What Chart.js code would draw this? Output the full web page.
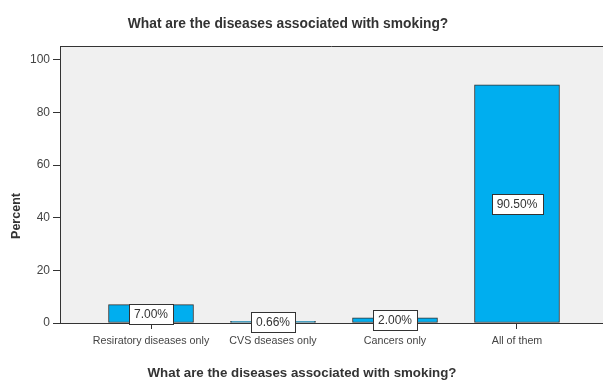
<!DOCTYPE html>
<html>
<head>
<meta charset="utf-8">
<script src="https://cdn.jsdelivr.net/npm/chart.js@4/dist/chart.umd.min.js"></script>
<style>
  html, body { margin: 0; padding: 0; background: #ffffff; }
  #wrap { width: 603px; height: 382px; }
</style>
</head>
<body>
<div id="wrap"><canvas id="c" width="603" height="382"></canvas></div>
<script>
// Survey answers: share of respondents per answer
const categories = ['Resiratory diseases only', 'CVS dseases only', 'Cancers only', 'All of them'];
const percentValues = [7.00, 0.66, 2.00, 90.50];
const yTicks = [0, 20, 40, 60, 80, 100];

const chartTitle = 'What are the diseases associated with smoking?';
const xAxisTitle = 'What are the diseases associated with smoking?';
const yAxisTitle = 'Percent';

const FONT = '"Liberation Sans", Arial, Helvetica, sans-serif';
const INK = '#333333';

// grey plot background plus the top frame line
const plotFrame = {
  id: 'plotFrame',
  beforeDraw(chart) {
    const { ctx, chartArea: a } = chart;
    ctx.save();
    ctx.fillStyle = '#f0f0f0';
    ctx.fillRect(a.left, a.top, a.right - a.left, a.bottom - a.top);
    ctx.strokeStyle = INK;
    ctx.lineWidth = 1;
    ctx.beginPath();
    ctx.moveTo(a.left, a.top + 0.5);
    ctx.lineTo(a.right, a.top + 0.5);
    ctx.stroke();
    ctx.restore();
  }
};

// boxed percentage labels in the middle of each bar
const boxedLabels = {
  id: 'boxedLabels',
  afterDatasetsDraw(chart) {
    const { ctx } = chart;
    const meta = chart.getDatasetMeta(0);
    ctx.save();
    ctx.font = '12px ' + FONT;
    ctx.textAlign = 'center';
    ctx.textBaseline = 'middle';
    meta.data.forEach((bar, i) => {
      const text = percentValues[i].toFixed(2) + '%';
      const w = Math.round(ctx.measureText(text).width) + 10;
      const h = 20;
      const cx = Math.round(bar.x);
      const cy = Math.round((bar.y + bar.base) / 2);
      const x0 = Math.round(cx - w / 2) + 0.5;
      const y0 = Math.round(cy - h / 2) + 0.5;
      ctx.fillStyle = '#ffffff';
      ctx.fillRect(x0, y0, w, h);
      ctx.strokeStyle = INK;
      ctx.lineWidth = 1;
      ctx.strokeRect(x0, y0, w, h);
      ctx.fillStyle = INK;
      ctx.fillText(text, cx, cy + 1);
    });
    ctx.restore();
  }
};

// chart title, x-axis title and rotated y-axis title
const titles = {
  id: 'titles',
  afterDraw(chart) {
    const { ctx } = chart;
    ctx.save();
    ctx.fillStyle = INK;
    ctx.textAlign = 'center';
    ctx.textBaseline = 'middle';
    ctx.font = 'bold 13.8px ' + FONT;
    ctx.fillText(chartTitle, 288, 24);
    ctx.font = 'bold 13.3px ' + FONT;
    ctx.fillText(xAxisTitle, 302, 373);
    ctx.translate(17, 216);
    ctx.rotate(-Math.PI / 2);
    ctx.font = 'bold 12.5px ' + FONT;
    ctx.fillText(yAxisTitle, 0, 0);
    ctx.restore();
  }
};

new Chart(document.getElementById('c'), {
  type: 'bar',
  data: {
    datasets: [{
      data: categories.map((c, i) => ({ x: i, y: percentValues[i] })),
      backgroundColor: '#00aeef',
      borderColor: INK,
      borderWidth: 1,
      borderSkipped: false,
      barThickness: 85
    }]
  },
  options: {
    responsive: false,
    animation: false,
    layout: { padding: { top: 46, left: 0, right: 0, bottom: 0 } },
    plugins: {
      legend: { display: false },
      title: { display: false },
      tooltip: { enabled: false }
    },
    scales: {
      x: {
        type: 'linear',
        offset: false,
        min: -0.746,
        max: 3.705,
        afterBuildTicks(scale) {
          scale.ticks = categories.map((c, i) => ({ value: i }));
        },
        afterFit(scale) { scale.height = 59; },
        grid: { drawOnChartArea: false, offset: false, tickLength: 6, color: INK, tickWidth: 1 },
        border: { display: true, color: INK, width: 1 },
        ticks: {
          autoSkip: false,
          maxRotation: 0,
          padding: 6,
          color: '#444444',
          font: { family: FONT, size: 10.7 },
          callback: (v) => categories[v]
        }
      },
      y: {
        min: 0,
        max: 105.3,
        afterBuildTicks(scale) {
          scale.ticks = yTicks.map(v => ({ value: v }));
        },
        afterFit(scale) { scale.width = 60; },
        grid: { drawOnChartArea: false, tickLength: 7, color: INK, tickWidth: 1 },
        border: { display: true, color: INK, width: 1 },
        ticks: {
          padding: 3,
          color: '#444444',
          font: { family: FONT, size: 12 }
        }
      }
    }
  },
  plugins: [plotFrame, boxedLabels, titles]
});
</script>
</body>
</html>
